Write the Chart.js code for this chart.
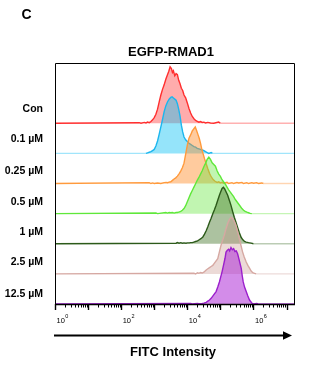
<!DOCTYPE html>
<html><head><meta charset="utf-8">
<script src="https://cdn.jsdelivr.net/npm/chart.js@4.4.1/dist/chart.umd.min.js"></script>
<style>html,body{margin:0;padding:0;background:#fff;}#wrap{width:331px;height:365px;position:relative;}</style>
</head><body><div id="wrap"><canvas id="c"></canvas></div>
<script>
// Lane labels (top to bottom) and where their text sits on the lane axis
const laneLabels = ['Con', '0.1 µM', '0.25 µM', '0.5 µM', '1 µM', '2.5 µM', '12.5 µM'];
const laneLabelPos = [6.47, 5.48, 4.42, 3.39, 2.40, 1.40, 0.33];
const laneBase = [6, 5, 4, 3, 2, 1, 0];
const xTickExps = [0, 2, 4, 6];

// Histograms: [log10(FITC intensity), % of mode]
const conData = [[2.55,1],[2.6,0],[2.7,1.5],[2.75,0.5],[2.8,2],[2.85,1],[2.9,3],[2.95,6],[3.0,10],[3.05,16],[3.1,25],[3.15,38],[3.2,50],[3.25,60],[3.3,68],[3.35,78],[3.4,86],[3.44,92],[3.48,100],[3.52,97],[3.55,90],[3.58,93],[3.62,84],[3.66,88],[3.7,86],[3.74,76],[3.78,70],[3.82,62],[3.86,58],[3.9,50],[3.95,45],[4.0,36],[4.05,26],[4.1,18],[4.15,12],[4.2,8],[4.25,5],[4.3,3.5],[4.35,2],[4.4,3],[4.45,1.5],[4.5,2],[4.55,0.5],[4.62,1.5],[4.7,0.5],[4.8,0],[4.95,2],[5.0,0]];
const c01Data = [[2.75,0],[2.8,1],[2.85,2],[2.9,3],[2.95,5],[3.0,7],[3.05,13],[3.1,22],[3.15,34],[3.2,47],[3.25,60],[3.3,74],[3.35,84],[3.4,91],[3.45,96],[3.5,99],[3.54,100],[3.58,98],[3.62,96],[3.66,94],[3.7,88],[3.74,78],[3.78,66],[3.82,50],[3.86,38],[3.9,29],[3.95,24],[4.0,21],[4.05,18],[4.1,16],[4.15,14],[4.2,12],[4.25,11],[4.3,9],[4.35,8],[4.4,7],[4.45,6],[4.5,5],[4.55,3],[4.6,1.5],[4.65,0],[4.72,1.5],[4.76,0]];
const c025Data = [[2.85,1.5],[2.9,0],[2.95,1],[3.0,0],[3.1,1],[3.2,0],[3.3,1.5],[3.36,2],[3.4,1.5],[3.45,2.5],[3.5,3],[3.56,6],[3.6,8],[3.65,10],[3.7,13],[3.76,18],[3.8,22],[3.85,28],[3.9,36],[3.95,52],[4.0,68],[4.05,80],[4.1,86],[4.15,93],[4.2,97],[4.24,100],[4.28,94],[4.32,87],[4.36,80],[4.4,71],[4.44,60],[4.48,52],[4.52,44],[4.57,35],[4.62,26],[4.67,18],[4.72,12],[4.78,7],[4.84,4],[4.9,2],[4.95,3],[5.0,1],[5.05,2],[5.1,0.5],[5.2,2],[5.25,0],[5.35,1.5],[5.4,0],[5.5,2],[5.55,1],[5.65,2],[5.7,0],[5.8,1.5],[5.85,0],[5.95,1.5],[6.0,0.5],[6.1,1.5],[6.15,0],[6.25,1],[6.3,0]];
const c05Data = [[3.05,1],[3.1,0],[3.35,2],[3.4,1],[3.45,2],[3.5,1.5],[3.55,2],[3.6,1],[3.66,2],[3.7,2],[3.76,3],[3.8,4],[3.85,6],[3.9,9],[3.95,14],[4.0,21],[4.05,28],[4.1,35],[4.15,41],[4.2,47],[4.25,53],[4.3,59],[4.35,64],[4.4,70],[4.45,76],[4.5,83],[4.55,89],[4.6,96],[4.65,100],[4.7,96],[4.75,90],[4.8,87],[4.85,84],[4.9,76],[4.95,70],[5.0,66],[5.05,60],[5.1,56],[5.15,52],[5.2,47],[5.25,42],[5.3,38],[5.35,34],[5.4,30],[5.45,25],[5.5,21],[5.55,17],[5.6,13],[5.65,9],[5.7,6],[5.75,4],[5.8,2.5],[5.85,1.5],[5.9,0.5],[5.95,0]];
const c1Data = [[3.66,1],[3.7,2],[3.75,1],[3.8,2],[3.85,1],[3.9,1.5],[3.96,1],[4.0,1.5],[4.06,1.5],[4.1,2],[4.15,2],[4.2,3],[4.25,4],[4.31,5],[4.36,7],[4.41,9],[4.47,12],[4.52,17],[4.57,23],[4.62,30],[4.67,38],[4.72,45],[4.77,53],[4.82,60],[4.87,68],[4.92,77],[4.97,86],[5.01,92],[5.05,98],[5.09,100],[5.13,97],[5.17,92],[5.22,86],[5.27,77],[5.32,68],[5.37,57],[5.42,47],[5.47,38],[5.52,29],[5.57,20],[5.63,11],[5.68,7],[5.73,4],[5.78,3],[5.85,2],[5.93,1],[6.0,0]];
const c25Data = [[4.2,1],[4.25,0],[4.31,2],[4.35,1],[4.4,2.5],[4.45,1.5],[4.5,3],[4.57,7],[4.62,9],[4.67,11],[4.72,13],[4.77,15],[4.82,19],[4.87,23],[4.92,27],[4.97,39],[5.02,51],[5.07,60],[5.12,69],[5.17,80],[5.22,89],[5.27,96],[5.32,100],[5.37,98],[5.42,93],[5.47,86],[5.52,75],[5.57,63],[5.62,51],[5.67,39],[5.72,30],[5.78,21],[5.83,15],[5.88,10],[5.93,5],[5.98,2],[6.03,1],[6.08,0]];
const c125Data = [[4.1,1],[4.15,0],[4.3,1],[4.35,0.5],[4.45,1],[4.5,1.5],[4.57,3],[4.62,5],[4.67,7],[4.72,10],[4.77,14],[4.82,18],[4.87,22],[4.92,30],[4.97,39],[5.01,48],[5.05,57],[5.1,70],[5.14,81],[5.17,92],[5.21,95],[5.25,97],[5.28,94],[5.32,100],[5.36,96],[5.4,98],[5.44,93],[5.48,94],[5.52,89],[5.56,80],[5.6,70],[5.63,63],[5.66,50],[5.69,39],[5.73,30],[5.78,22],[5.83,14],[5.88,7],[5.92,4],[5.96,1],[6.0,0],[6.1,1],[6.15,0]];

const series = [conData, c01Data, c025Data, c05Data, c1Data, c25Data, c125Data];
const lineColors = ['#ff2e2e', '#1cb6ee', '#ff9a3c', '#5fe83a', '#2c5a1a', '#d6a8a2', '#9b1fcc'];
const fillColors = ['rgba(255,70,70,0.45)', 'rgba(20,195,245,0.45)', 'rgba(255,140,40,0.45)', 'rgba(100,230,60,0.40)', 'rgba(70,120,45,0.45)', 'rgba(195,140,130,0.32)', 'rgba(175,45,215,0.55)'];
const baseColors = ['rgba(255,60,60,0.4)', 'rgba(20,190,245,0.4)', 'rgba(255,150,60,0.4)', 'rgba(110,230,70,0.4)', 'rgba(60,110,40,0.35)', 'rgba(200,150,145,0.35)', 'rgba(155,31,204,0.8)'];

const X_MIN = 1, X_MAX = 1.8e7;
const PEAK_UNITS = 1.875; // lane units at 100% of mode

const datasets = series.map((s, i) => {
  const base = laneBase[i];
  const pts = [{x: X_MIN, y: base}].concat(s.map(p => ({x: Math.pow(10, p[0]), y: base + p[1] / 100 * PEAK_UNITS})), [{x: X_MAX, y: base}]);
  return {
    label: laneLabels[i],
    data: pts,
    borderColor: lineColors[i],
    backgroundColor: fillColors[i],
    borderWidth: 1.4,
    pointRadius: 0,
    tension: 0,
    fill: {value: base},
    order: 6 - i,
    segment: {
      borderColor: ctx => (ctx.p0.parsed.y === base && ctx.p1.parsed.y === base) ? baseColors[i] : undefined
    }
  };
});

const FONT = "'Liberation Sans', Arial, Helvetica, sans-serif";

const deco = {
  id: 'deco',
  afterDraw(chart) {
    const {ctx, chartArea: a, scales: {x}} = chart;
    ctx.save();
    // plot frame
    ctx.strokeStyle = '#000';
    ctx.lineWidth = 1;
    ctx.beginPath();
    ctx.moveTo(a.left + 0.5, a.bottom);
    ctx.lineTo(a.left + 0.5, a.top + 0.5);
    ctx.lineTo(a.right - 0.5, a.top + 0.5);
    ctx.lineTo(a.right - 0.5, a.bottom);
    ctx.stroke();
    ctx.lineWidth = 1.5;
    ctx.beginPath();
    ctx.moveTo(a.left, a.bottom + 0.5);
    ctx.lineTo(a.right, a.bottom + 0.5);
    ctx.stroke();
    // log ticks
    for (let k = 0; k <= 7; k++) {
      for (let m = 1; m <= 9; m++) {
        const v = m * Math.pow(10, k);
        if (v > X_MAX) break;
        const px = Math.round(x.getPixelForValue(v)) + 0.5;
        ctx.lineWidth = m === 1 ? 1.4 : 1;
        ctx.beginPath();
        ctx.moveTo(px, a.bottom);
        ctx.lineTo(px, a.bottom + (m === 1 ? 6 : 3.5));
        ctx.stroke();
      }
    }
    // tick labels 10^k
    ctx.fillStyle = '#000';
    ctx.textBaseline = 'alphabetic';
    ctx.textAlign = 'left';
    xTickExps.forEach(k => {
      const px = x.getPixelForValue(Math.pow(10, k));
      ctx.font = '7.5px ' + FONT;
      ctx.fillText('10', px + 1.5, 322.5);
      const w = ctx.measureText('10').width;
      ctx.font = '5.5px ' + FONT;
      ctx.fillText(String(k), px + 2 + w, 317.8);
    });
    // arrow
    ctx.lineWidth = 2;
    ctx.beginPath();
    ctx.moveTo(54, 335.5);
    ctx.lineTo(285, 335.5);
    ctx.stroke();
    ctx.beginPath();
    ctx.moveTo(283, 331.2);
    ctx.lineTo(292, 335.5);
    ctx.lineTo(283, 339.8);
    ctx.closePath();
    ctx.fill();
    // texts
    ctx.textAlign = 'center';
    ctx.textBaseline = 'middle';
    ctx.font = 'bold 13px ' + FONT;
    ctx.fillText('FITC Intensity', 173, 352);
    ctx.fillText('EGFP-RMAD1', 171, 52);
    ctx.font = 'bold 14px ' + FONT;
    ctx.fillText('C', 26.5, 15.5);
    ctx.restore();
  }
};

new Chart(document.getElementById('c'), {
  type: 'line',
  data: {datasets},
  options: {
    responsive: true,
    maintainAspectRatio: false,
    animation: false,
    layout: {padding: {top: 63, right: 36, left: 0, bottom: 0}},
    plugins: {legend: {display: false}, tooltip: {enabled: false}, title: {display: false}},
    scales: {
      x: {
        type: 'logarithmic',
        min: X_MIN,
        max: X_MAX,
        ticks: {display: false},
        grid: {display: false},
        border: {display: false},
        afterFit: s => { s.height = 61; }
      },
      y: {
        type: 'linear',
        min: 0,
        max: 8,
        grid: {display: false, drawTicks: false},
        border: {display: false},
        afterBuildTicks: s => { s.ticks = laneLabelPos.slice().reverse().map(v => ({value: v})); },
        ticks: {
          autoSkip: false,
          padding: 12,
          color: '#000',
          font: {family: FONT, size: 10.5, weight: 'bold'},
          callback: (v, idx) => laneLabels[laneLabels.length - 1 - idx]
        },
        afterFit: s => { s.width = 55; }
      }
    }
  },
  plugins: [deco]
});
</script>
</body></html>
